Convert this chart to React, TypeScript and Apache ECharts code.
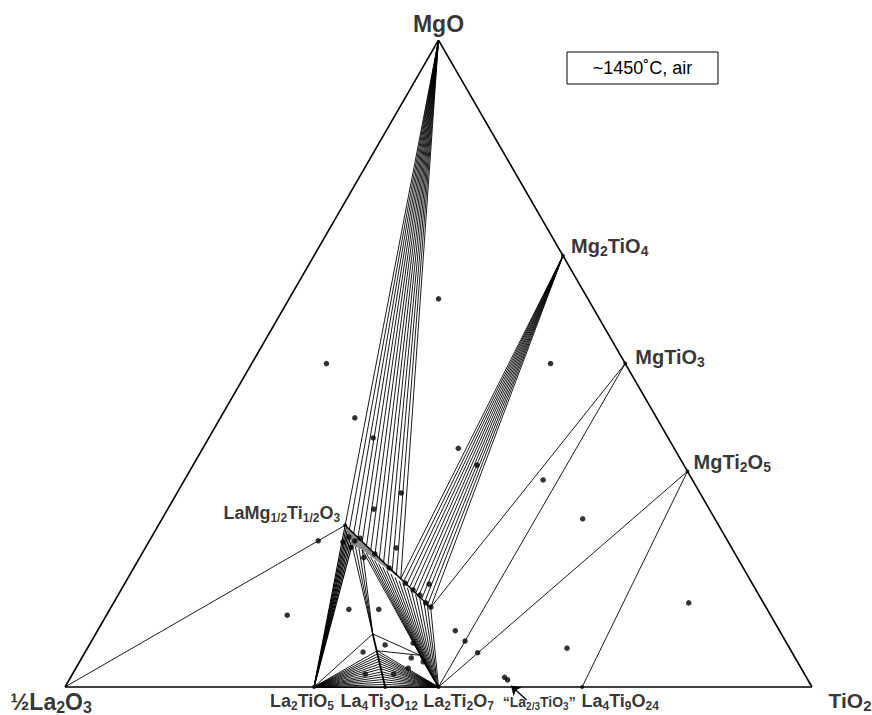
import React, { useEffect, useRef } from "react";
import * as echarts from "echarts";

type P = [number, number]; // [TiO2 fraction, MgO fraction]; remainder is ½La2O3

const H = Math.sqrt(3) / 2;
const FONT = '"Liberation Sans", Arial, Helvetica, sans-serif';

// end members
const MGO: P = [0, 1];
const TIO2: P = [1, 0];
const LAO: P = [0, 0];
// binary compounds
const MG2TIO4: P = [1 / 3, 2 / 3];
const MGTIO3: P = [1 / 2, 1 / 2];
const MGTI2O5: P = [2 / 3, 1 / 3];
const LA2TIO5: P = [1 / 3, 0];
const LA4TI3O12: P = [3 / 7, 0];
const LA2TI2O7: P = [1 / 2, 0];
const LA23TIO3: P = [0.6, 0];
const LA4TI9O24: P = [9 / 13, 0];
const LMT: P = [0.25, 0.25]; // LaMg1/2Ti1/2O3
// solid-solution limits
const PEROV_END: P = [0.428, 0.123];
const PEROV_LOW: P = [0.2745, 0.2195];
const PEROV_TIP: P = [0.374, 0.162];
const PEROV_LOW2: P = [0.292, 0.212];
const SS2_TOP: P = [0.371, 0.082];
const SS2_MID: P = [0.39, 0.056];
const PYRO_TOP: P = [0.451, 0.049];

// tie-line fans: fractions along the solid-solution segments
const MGO_FAN_U = [0, 0.05, 0.1, 0.15, 0.2, 0.25, 0.3, 0.35, 0.4, 0.45, 0.5, 0.55, 0.6, 0.65];
const MG2TIO4_FAN_U = [0.65, 0.685, 0.72, 0.755, 0.79, 0.825, 0.86, 0.895, 0.93, 0.965, 1];
const LA2TIO5_PEROV_F = [0, 0.14, 0.28, 0.42, 0.56, 0.7, 0.85, 1];
const SS2_PEROV_F = [0, 0.33, 0.67, 1];
const BIG_FAN_F = [0, 0.06, 0.12, 0.18, 0.24, 0.3, 0.36, 0.42, 0.48, 0.54, 0.6, 0.66, 0.72, 0.78, 0.84, 0.9, 0.95, 1];
const LA2TIO5_SS2_F = [0, 0.07, 0.14, 0.21, 0.28, 0.35, 0.42, 0.5, 0.57, 0.64, 0.71, 0.78, 0.85, 0.92, 1];
const LA2TI2O7_SS2_F = [0, 0.07, 0.14, 0.21, 0.28, 0.35, 0.42, 0.5, 0.57, 0.64, 0.71, 0.78, 0.85, 0.92, 1];

// experimental compositions
const DOTS: P[] = [
  [0.1, 0.5], [0.2, 0.6], [0.4, 0.5], [0.18, 0.416], [0.22, 0.385], [0.342, 0.369], [0.38, 0.343],
  [0.48, 0.32], [0.563, 0.26], [0.226, 0.226], [0.242, 0.111], [0.32, 0.12], [0.36, 0.12], [0.3, 0.3],
  [0.276, 0.275], [0.336, 0.215], [0.3, 0.2], [0.408, 0.159], [0.479, 0.087], [0.5, 0.071], [0.526, 0.053],
  [0.642, 0.06], [0.77, 0.13], [0.581, 0.015], [0.587, 0.011], [0.372, 0.054], [0.396, 0.065], [0.441, 0.045],
  [0.392, 0.02], [0.43, 0.02], [0.445, 0.029], [0.46, 0.039], [0.432, 0.068],
  [0.26, 0.224], [0.264, 0.232], [0.275, 0.2257], [0.28, 0.23], [0.275, 0.216], [0.312, 0.2056],
  [0.342, 0.184], [0.375, 0.1607], [0.391, 0.15], [0.404, 0.142], [0.418, 0.13], [0.428, 0.1236],
];
const COMPOUND_DOTS: P[] = [MG2TIO4, MGTIO3, MGTI2O5, LA2TIO5, LA4TI3O12, LA2TI2O7, LA4TI9O24, LMT];

const ARROW_FROM: P = [0.628, -0.02];
const ARROW_TO: P = [0.596, 0.002];

const toXY = (p: P): [number, number] => [p[0] + p[1] / 2, p[1] * H];
const along = (a: P, b: P, f: number): P => [a[0] + (b[0] - a[0]) * f, a[1] + (b[1] - a[1]) * f];

function buildTieLines() {
  const out: any[] = [];
  const seg = (a: P, b: P, w = 0.9) => out.push({ coords: [toXY(a), toXY(b)], lineStyle: { width: w } });
  MGO_FAN_U.forEach((u) => seg(MGO, along(LMT, PEROV_END, u)));
  MG2TIO4_FAN_U.forEach((u) => seg(MG2TIO4, along(LMT, PEROV_END, u)));
  LA2TIO5_PEROV_F.forEach((f) => seg(LA2TIO5, along(LMT, PEROV_LOW, f), 1.1));
  SS2_PEROV_F.forEach((f) => seg(SS2_TOP, along(PEROV_LOW, PEROV_LOW2, f)));
  BIG_FAN_F.forEach((f) => seg(along(PEROV_LOW2, PEROV_END, f), along(PYRO_TOP, LA2TI2O7, f)));
  LA2TIO5_SS2_F.forEach((f) => seg(LA2TIO5, along(LA4TI3O12, SS2_MID, f)));
  LA2TI2O7_SS2_F.forEach((f) => seg(LA2TI2O7, along(LA4TI3O12, SS2_MID, f)));
  seg(LAO, LMT);
  seg(LA2TIO5, SS2_TOP);
  seg(SS2_TOP, PYRO_TOP);
  seg(SS2_MID, PYRO_TOP);
  seg(LA4TI3O12, SS2_TOP, 1.8);
  seg(PYRO_TOP, LA2TI2O7, 1.8);
  seg(LMT, PEROV_END, 1.4);
  seg(MGTIO3, PEROV_END);
  seg(MGTIO3, LA2TI2O7);
  seg(MGTI2O5, LA2TI2O7);
  seg(MGTI2O5, LA4TI9O24);
  return out;
}

function labelItem(p: P, text: string, position: any, offset: [number, number], size: number, sub: number, distance = 4) {
  return {
    value: toXY(p),
    label: {
      show: true,
      formatter: text,
      position,
      distance,
      offset,
      fontFamily: FONT,
      fontWeight: "bold",
      fontSize: size,
      lineHeight: size + 4,
      color: "#000",
      rich: {
        s: { fontFamily: FONT, fontWeight: "bold", fontSize: sub, lineHeight: sub, verticalAlign: "bottom", color: "#000" },
      },
    },
  };
}

export default function App() {
  const ref = useRef<HTMLDivElement>(null);
  useEffect(() => {
    if (!ref.current) return;
    const chart = echarts.init(ref.current, undefined, { renderer: "svg" });
    const tri = [
      { coords: [toXY(LAO), toXY(TIO2)] },
      { coords: [toXY(TIO2), toXY(MGO)] },
      { coords: [toXY(MGO), toXY(LAO)] },
    ];
    const labels = [
      labelItem(MGO, "MgO", "top", [0, 0], 23, 15, 3),
      labelItem(MG2TIO4, "Mg{s|2}TiO{s|4}", "right", [2, -10], 20, 14, 6),
      labelItem(MGTIO3, "MgTiO{s|3}", "right", [2, -7], 20, 14, 8),
      labelItem(MGTI2O5, "MgTi{s|2}O{s|5}", "right", [0, -9], 20, 14, 6),
      labelItem(LMT, "LaMg{s|1/2}Ti{s|1/2}O{s|3}", "left", [0, -12], 18, 12, 5),
      labelItem(LAO, "½La{s|2}O{s|3}", "bottom", [-14, 0], 23, 16, 1),
      labelItem(TIO2, "TiO{s|2}", "bottom", [38, 0], 21, 15, 1),
      labelItem(LA2TIO5, "La{s|2}TiO{s|5}", "bottom", [-12, 0], 18, 12, 3),
      labelItem(LA4TI3O12, "La{s|4}Ti{s|3}O{s|12}", "bottom", [-6, 0], 18, 12, 3),
      labelItem(LA2TI2O7, "La{s|2}Ti{s|2}O{s|7}", "bottom", [20, 0], 18, 12, 3),
      labelItem(LA23TIO3, "“La{s|2/3}TiO{s|3}”", "bottom", [26, 2], 14, 10, 4),
      labelItem(LA4TI9O24, "La{s|4}Ti{s|9}O{s|24}", "bottom", [38, 0], 18, 12, 3),
    ];
    chart.setOption({
      animation: false,
      backgroundColor: "#fff",
      grid: { left: 65, right: 60, top: 715 - 28 - 747 * H, bottom: 28 },
      xAxis: { type: "value", min: 0, max: 1, show: false },
      yAxis: { type: "value", min: 0, max: H, show: false },
      graphic: [
        { type: "rect", shape: { x: 567, y: 52, width: 151, height: 32 }, style: { fill: "#fff", stroke: "#000", lineWidth: 1 } },
        {
          type: "text",
          x: 642.5,
          y: 68,
          style: { text: "~1450˚C, air", font: `18px ${FONT}`, fill: "#000", align: "center", verticalAlign: "middle", textAlign: "center", textVerticalAlign: "middle" },
        },
      ],
      series: [
        {
          type: "custom",
          coordinateSystem: "cartesian2d",
          silent: true,
          data: [0],
          renderItem: (_p: any, api: any) => ({
            type: "polygon",
            shape: { points: [LMT, PEROV_TIP, PEROV_LOW2, PEROV_LOW].map((q) => api.coord(toXY(q as P))) },
            style: { fill: "#8a8a8a" },
          }),
        },
        { type: "lines", coordinateSystem: "cartesian2d", silent: true, clip: false, lineStyle: { color: "#000", width: 0.9, opacity: 1 }, data: buildTieLines() },
        { type: "lines", coordinateSystem: "cartesian2d", silent: true, clip: false, lineStyle: { color: "#000", width: 1.6, opacity: 1 }, data: tri },
        {
          type: "lines",
          coordinateSystem: "cartesian2d",
          silent: true,
          clip: false,
          symbol: ["none", "arrow"],
          symbolSize: 9,
          lineStyle: { color: "#000", width: 1.4, opacity: 1 },
          data: [{ coords: [toXY(ARROW_FROM), toXY(ARROW_TO)] }],
        },
        { type: "scatter", silent: true, symbolSize: 5.5, itemStyle: { color: "#000" }, data: DOTS.map(toXY), z: 5 },
        { type: "scatter", silent: true, symbolSize: 4, itemStyle: { color: "#000" }, data: COMPOUND_DOTS.map(toXY), z: 5 },
        { type: "scatter", silent: true, symbolSize: 0, itemStyle: { color: "transparent" }, data: labels, z: 6 },
      ],
    });
    return () => chart.dispose();
  }, []);
  return <div ref={ref} style={{ position: "absolute", left: 0, top: 0, width: 872, height: 715 }} />;
}
